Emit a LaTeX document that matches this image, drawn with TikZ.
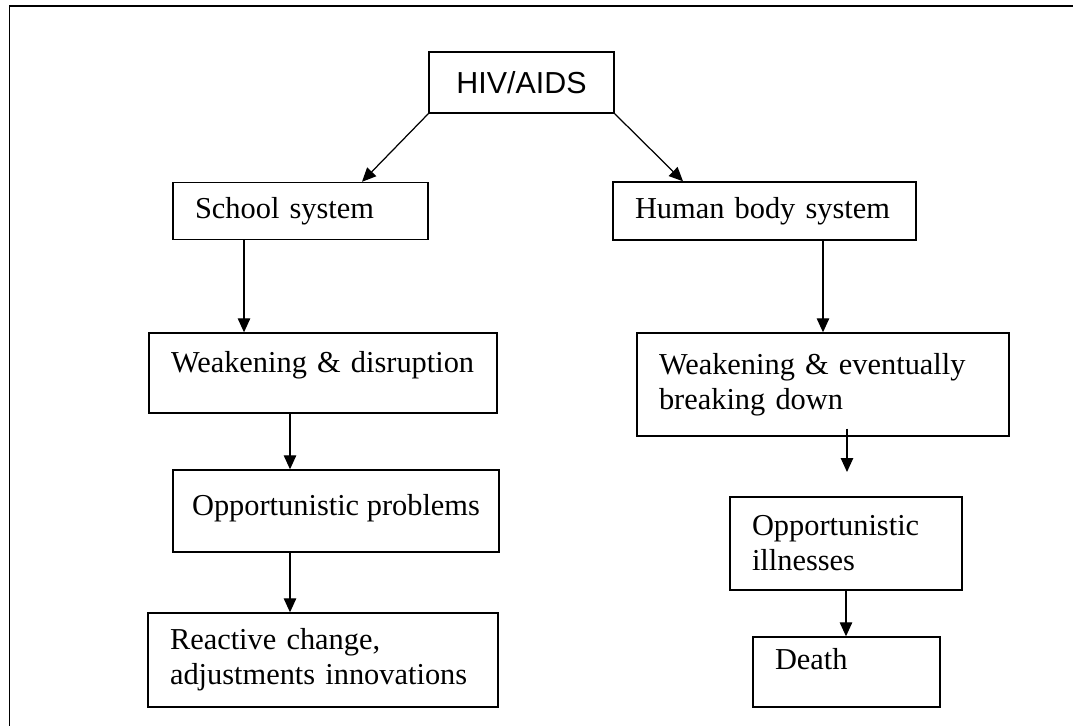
\documentclass[tikz,border=0pt]{standalone}
\usepackage{fontspec}
\setmainfont{Liberation Serif}
\setsansfont{Liberation Sans}
\usetikzlibrary{arrows.meta}

\begin{document}
\begin{tikzpicture}[
		x=0.02cm, y=-0.02cm,
		rootbox/.style={rectangle, draw, line width=0.8pt, align=center,
				minimum width=3.7cm, minimum height=1.22cm,
				font=\sffamily\fontsize{17.3}{20}\selectfont},
		stage/.style={rectangle, draw, line width=0.8pt, align=left,
				inner xsep=0.44cm, inner ysep=0pt,
				font=\fontsize{17.3}{20}\selectfont},
		lift/.style={text height=0.7em, text depth=#1},
		flow/.style={line width=0.7pt, -{Triangle[length=0.28cm, width=0.25cm]}},
		pageframe/.style={line width=1.1pt},
	]
	\useasboundingbox (0,0) rectangle (1073,726);
	\draw [pageframe] (9.5,726) -- (9.5,6) -- (1073,6);

	\node (hiv)    [rootbox] at (521.5, 82.5) {HIV/AIDS};
	\node (school) [stage, text width=4.22cm, minimum height=1.14cm] at (300.5, 211) {School system};
	\node (human)  [stage, text width=5.18cm, minimum height=1.16cm] at (764.5, 211) {Human body system};
	\node (weak1)  [stage, lift=0.76em, text width=6.08cm, minimum height=1.6cm] at (323, 373) {Weakening \& disruption};
	\node (weak2)  [stage, text width=6.56cm, minimum height=2.06cm] at (823, 384.5) {Weakening \& eventually\\breaking down};
	\node (oprob)  [stage, lift=0.24em, inner xsep=0pt, minimum width=6.52cm, minimum height=1.64cm] at (336, 511) {Opportunistic problems};
	\node (react)  [stage, text width=6.12cm, minimum height=1.88cm] at (323, 660) {Reactive change,\\adjustments innovations};
	\node (oill)   [stage, text width=3.76cm, minimum height=1.86cm] at (846, 543.5) {Opportunistic\\illnesses};
	\node (death)  [stage, lift=0.96em, text width=2.86cm, minimum height=1.4cm] at (846.5, 672) {Death};
	\coordinate (gap) at (847, 472);

	% HIV/AIDS splits into the two systems
	\draw [flow] (hiv.south west) -- ([xshift=1.23cm]school.north);
	\draw [flow] (hiv.south east) -- ([xshift=-1.63cm]human.north);
	% school system side
	\draw [flow] ([xshift=-1.13cm]school.south) -- ([xshift=-1.13cm]school.south |- weak1.north);
	\draw [flow] ([xshift=-0.66cm]weak1.south) -- ([xshift=-0.66cm]weak1.south |- oprob.north);
	\draw [flow] ([xshift=-0.66cm]weak1.south |- oprob.south) -- ([xshift=-0.66cm]weak1.south |- react.north);
	% human body side
	\draw [flow] (weak2.north |- human.south) -- (weak2.north);
	\draw [flow] ([yshift=0.16cm]gap |- weak2.south) -- (gap);
	\draw [flow] (oill.south) -- (oill.south |- death.north);
\end{tikzpicture}
\end{document}
